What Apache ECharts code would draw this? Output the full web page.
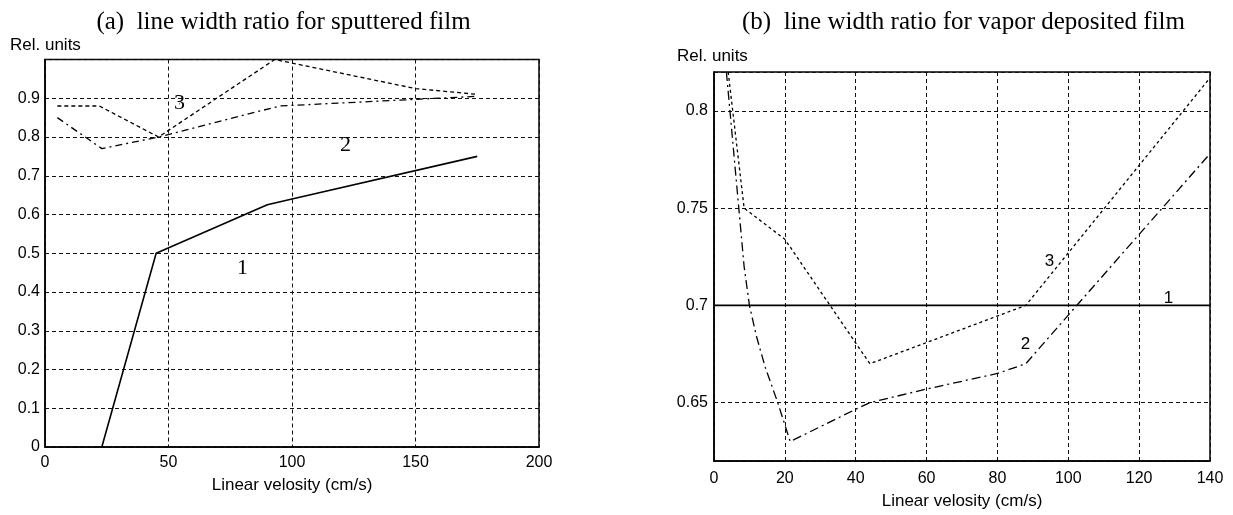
<!DOCTYPE html>
<html><head><meta charset="utf-8">
<script src="https://cdn.jsdelivr.net/npm/echarts@6/dist/echarts.min.js"></script>
<style>html,body{margin:0;padding:0;background:#fff}#c{width:1233px;height:515px}</style>
</head><body><div id="c"></div>
<script>
// ---- texts ----
const titleA = '(a)  line width ratio for sputtered film';
const titleB = '(b)  line width ratio for vapor deposited film';
const yName = 'Rel. units';
const xName = 'Linear velosity (cm/s)';

// ---- panel (a): sputtered film ----
const a1 = [[23, 0], [45, 0.5], [90, 0.625], [100, 0.64], [175, 0.75]];
const a2 = [[5, 0.85], [23, 0.77], [46, 0.80], [95, 0.88], [175, 0.905]];
const a3 = [[5, 0.88], [22, 0.88], [46, 0.80], [93, 1.0], [150, 0.925], [175, 0.91]];
const aLabels = [[80, 0.461, '1'], [121.7, 0.779, '2'], [54.5, 0.886, '3']];

// ---- panel (b): vapor deposited film ----
const b1 = [[0, 0.70], [140, 0.70]];
const b2 = [[3.5, 0.82], [5.5, 0.78], [7, 0.75], [8.5, 0.72], [10, 0.70], [12, 0.684], [14.5, 0.668],
            [18, 0.65], [21.5, 0.63], [40, 0.6466], [44, 0.65], [60, 0.657], [80, 0.665], [88, 0.67],
            [100, 0.695], [140, 0.778]];
const b3 = [[4, 0.82], [8.5, 0.75], [20, 0.734], [44, 0.67], [88, 0.70], [140, 0.817]];
const bLabels = [[128.3, 0.7037, '1'], [87.9, 0.680, '2'], [94.7, 0.7225, '3']];

const sans = '"Liberation Sans", Arial, sans-serif';
const serif = '"Liberation Serif", "Times New Roman", serif';
const gridLine = { show: true, lineStyle: { color: '#111', type: [4, 3], width: 1 } };
const axisLine = { show: true, onZero: false, lineStyle: { color: '#000', width: 1.5 } };

function lineSeries(data, xi, dash, w) {
  return {
    type: 'line', xAxisIndex: xi, yAxisIndex: xi, data: data, symbol: 'none',
    animation: false, z: 5,
    lineStyle: { color: '#000', width: w, type: dash }
  };
}
function labelSeries(data, xi, font, size) {
  return {
    type: 'scatter', xAxisIndex: xi, yAxisIndex: xi, symbol: 'circle', symbolSize: 1, silent: true, animation: false,
    itemStyle: { color: '#000', opacity: 1 }, z: 6,
    data: data.map(d => ({ value: [d[0], d[1]], name: d[2] })),
    label: { show: true, position: 'inside', formatter: '{b}', color: '#000', opacity: 1,
             textBorderWidth: 0, fontFamily: font, fontSize: size }
  };
}

const chart = echarts.init(document.getElementById('c'));
chart.setOption({
  backgroundColor: '#fff',
  animation: false,
  grid: [
    { left: 45, top: 59.5, width: 494, height: 387.5, show: true, borderColor: '#000', borderWidth: 1.5 },
    { left: 714, top: 72, width: 496, height: 389, show: true, borderColor: '#000', borderWidth: 1.5 }
  ],
  xAxis: [
    { type: 'value', gridIndex: 0, min: 0, max: 200, interval: 50,
      name: xName, nameLocation: 'middle', nameGap: 29.5,
      nameTextStyle: { fontFamily: sans, fontSize: 17, color: '#000' },
      axisLine: axisLine, axisTick: { show: false }, splitLine: gridLine,
      axisLabel: { margin: 8, fontFamily: sans, fontSize: 16, color: '#000' } },
    { type: 'value', gridIndex: 1, min: 0, max: 140, interval: 20,
      name: xName, nameLocation: 'middle', nameGap: 32,
      nameTextStyle: { fontFamily: sans, fontSize: 17, color: '#000' },
      axisLine: axisLine, axisTick: { show: false }, splitLine: gridLine,
      axisLabel: { margin: 10, fontFamily: sans, fontSize: 16, color: '#000' } }
  ],
  yAxis: [
    { type: 'value', gridIndex: 0, min: 0, max: 1, interval: 0.1,
      axisLine: axisLine, axisTick: { show: false }, splitLine: gridLine,
      axisLabel: { margin: 5, showMaxLabel: false, fontFamily: sans, fontSize: 16, color: '#000' } },
    { type: 'value', gridIndex: 1, min: 0.62, max: 0.82, splitNumber: 4,
      axisLine: axisLine, axisTick: { show: false }, splitLine: gridLine,
      axisLabel: { margin: 6, showMinLabel: false, showMaxLabel: false, fontFamily: sans, fontSize: 16, color: '#000' } }
  ],
  graphic: [
    { type: 'text', x: 283.5, y: 22, style: { text: titleA, fill: '#000', font: '25px ' + serif, align: 'center', verticalAlign: 'middle' } },
    { type: 'text', x: 963.5, y: 22, style: { text: titleB, fill: '#000', font: '25px ' + serif, align: 'center', verticalAlign: 'middle' } },
    { type: 'text', x: 10, y: 45.3, style: { text: yName, fill: '#000', font: '17px ' + sans, align: 'left', verticalAlign: 'middle' } },
    { type: 'text', x: 677, y: 56.3, style: { text: yName, fill: '#000', font: '17px ' + sans, align: 'left', verticalAlign: 'middle' } }
  ],
  series: [
    lineSeries(a1, 0, 'solid', 1.6),
    lineSeries(a2, 0, [7, 4, 2, 4], 1.3),
    lineSeries(a3, 0, [4, 3], 1.3),
    labelSeries(aLabels, 0, serif, 22),
    lineSeries(b1, 1, 'solid', 1.6),
    lineSeries(b2, 1, [9, 4, 2, 4], 1.3),
    lineSeries(b3, 1, [3, 3], 1.3),
    labelSeries(bLabels, 1, sans, 17)
  ]
});
</script>
</body></html>
